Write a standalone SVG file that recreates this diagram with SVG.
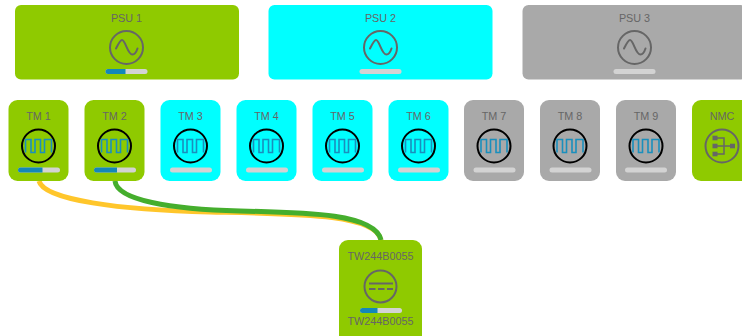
<svg xmlns="http://www.w3.org/2000/svg" width="742" height="336" viewBox="0 0 742 336">
<style>
text{font-family:"Liberation Sans",Arial,sans-serif;font-size:10.8px;fill:#666;text-anchor:middle}
.g{fill:#8fca00}.c{fill:#00ffff}.s{fill:#a9a9a9}
.ring{fill:none;stroke:#666;stroke-width:2}
.ringk{fill:none;stroke:#000;stroke-width:2}
.wave{fill:none;stroke:#666;stroke-width:2;stroke-linecap:round}
.sq{fill:none;stroke:#1a8fbd;stroke-width:1.600}
.bar{fill:#d3d3d3}.val{fill:#1388b8}
.link{fill:none;stroke-width:5}
</style>
<defs>
<g id="ac"><circle class="ring" r="16.5"/><path class="wave" d="M-10.500,1C-8,-4 -6,-7.500 -4.500,-7.500C-1,-7.500 1,7 6,7C8,7 10,4 11,1"/></g>
<g id="sqw"><circle class="ringk" r="16.5"/><path class="sq" d="M-13,6.500V-6.500H-7.500V6.500H-3.500V-6.500H2V6.500H6V-6.500H13V6.500"/></g>
<rect id="b" class="bar" width="42" height="5" rx="2.500"/>
</defs>
<g id="connectors">
<path class="link" stroke="#ffc62b" d="M39,181C44,200 120,210 210,212C300,214 375,214 381,240"/>
<path class="link" stroke="#45ae2d" d="M115,181C117,200 170,209.500 240,211C310,212.500 375,214 381,240"/>
</g>
<g id="psu1"><rect class="g" x="15" y="5" width="224" height="74.500" rx="6"/><text x="126.500" y="22">PSU 1</text><use href="#ac" x="126.500" y="47.500"/><use href="#b" x="105.500" y="69"/><path class="val" d="M108,69H125.500V74H108a2.500,2.500 0 0 1 0,-5z"/></g>
<g id="psu2"><rect class="c" x="268.500" y="5" width="224" height="74.500" rx="6"/><text x="380.500" y="22">PSU 2</text><use href="#ac" x="380.500" y="47.500"/><use href="#b" x="359.500" y="69"/></g>
<g id="psu3"><rect class="s" x="522.500" y="5" width="224" height="74.500" rx="6"/><text x="634.500" y="22">PSU 3</text><use href="#ac" x="634.500" y="47.500"/><use href="#b" x="613.500" y="69"/></g>
<g id="tm1"><rect class="g" x="8.500" y="100" width="60" height="81" rx="9"/><text x="38.500" y="120">TM 1</text><use href="#sqw" x="38.500" y="146"/><use href="#b" x="18" y="167.500"/><path class="val" d="M20.500,167.500H42.500V172.500H20.500a2.500,2.500 0 0 1 0,-5z"/></g>
<g id="tm2"><rect class="g" x="84.500" y="100" width="60" height="81" rx="9"/><text x="114.500" y="120">TM 2</text><use href="#sqw" x="114.500" y="146"/><use href="#b" x="94" y="167.500"/><path class="val" d="M96.500,167.500H117V172.500H96.500a2.500,2.500 0 0 1 0,-5z"/></g>
<g id="tm3"><rect class="c" x="160.500" y="100" width="60" height="81" rx="9"/><text x="190.500" y="120">TM 3</text><use href="#sqw" x="190.500" y="146"/><use href="#b" x="170" y="167.500"/></g>
<g id="tm4"><rect class="c" x="236.500" y="100" width="60" height="81" rx="9"/><text x="266.500" y="120">TM 4</text><use href="#sqw" x="266.500" y="146"/><use href="#b" x="246" y="167.500"/></g>
<g id="tm5"><rect class="c" x="312.500" y="100" width="60" height="81" rx="9"/><text x="342.500" y="120">TM 5</text><use href="#sqw" x="342.500" y="146"/><use href="#b" x="322" y="167.500"/></g>
<g id="tm6"><rect class="c" x="388.500" y="100" width="60" height="81" rx="9"/><text x="418.500" y="120">TM 6</text><use href="#sqw" x="418.500" y="146"/><use href="#b" x="398" y="167.500"/></g>
<g id="tm7"><rect class="s" x="464" y="100" width="60" height="81" rx="9"/><text x="494" y="120">TM 7</text><use href="#sqw" x="494" y="146"/><use href="#b" x="473.500" y="167.500"/></g>
<g id="tm8"><rect class="s" x="540" y="100" width="60" height="81" rx="9"/><text x="570" y="120">TM 8</text><use href="#sqw" x="570" y="146"/><use href="#b" x="549.500" y="167.500"/></g>
<g id="tm9"><rect class="s" x="616" y="100" width="60" height="81" rx="9"/><text x="646" y="120">TM 9</text><use href="#sqw" x="646" y="146"/><use href="#b" x="625" y="167.500"/></g>
<g id="nmc"><rect class="g" x="692" y="100" width="60" height="81" rx="9"/><text x="722" y="120">NMC</text><circle class="ring" cx="722" cy="146" r="16.500"/>
<path fill="none" stroke="#666" stroke-width="1.500" d="M717,138H724V154H717M717,146H731"/>
<g fill="#666"><rect x="712.500" y="135.700" width="5" height="4.600"/><rect x="712.500" y="143.700" width="5" height="4.600"/><rect x="712.500" y="151.700" width="5" height="4.600"/><rect x="730" y="143.700" width="5" height="4.600"/></g></g>
<g id="tw"><rect class="g" x="339" y="240" width="83" height="110" rx="9"/><text x="380.500" y="260">TW244B0055</text><circle class="ring" cx="380.500" cy="286.500" r="16"/><path fill="none" stroke="#666" stroke-width="2" d="M369,283.500H393"/><path fill="none" stroke="#666" stroke-width="2" stroke-dasharray="6.500 2.500" d="M369,289H393"/><use href="#b" x="360" y="308"/><path class="val" d="M362.500,308H377.500V313H362.500a2.500,2.500 0 0 1 0,-5z"/><text x="380.500" y="325">TW244B0055</text></g>
</svg>
